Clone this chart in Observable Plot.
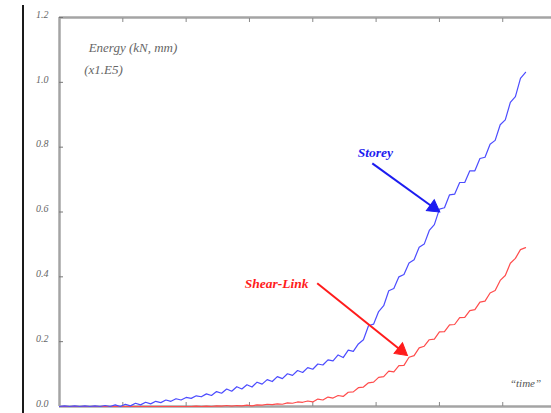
<!DOCTYPE html>
<html><head><meta charset="utf-8">
<script src="https://cdn.jsdelivr.net/npm/d3@7"></script>
<script src="https://cdn.jsdelivr.net/npm/@observablehq/plot@0.6"></script>
<style>
html,body{margin:0;padding:0;background:#fff;overflow:hidden}
#wrap{position:relative;width:551px;height:413px}
#edge{position:absolute;left:22px;top:5px;width:2px;height:408px;background:#1a1a1a;z-index:2}
</style></head><body><div id="wrap"><div id="edge"></div></div>
<script>
// "time" axis (arbitrary units)
const time = [0,0.08,0.16,0.24,0.32,0.40,0.48,0.56,0.64,0.72,0.80,0.88,0.96,1.04,1.12,1.20,1.28,1.36,1.44,1.52,1.60,1.68,1.76,1.84,1.92,2.00,2.08,2.16,2.24,2.32,2.40,2.48,2.56,2.64,2.72,2.80,2.88,2.96,3.04,3.12,3.20,3.28,3.36,3.44,3.52,3.60,3.68,3.76,3.84,3.92,4.00,4.08,4.16,4.24,4.32,4.40,4.48,4.56,4.64,4.72,4.80,4.88,4.96,5.04,5.12,5.20,5.28,5.36,5.44,5.52,5.60,5.68,5.76,5.84,5.92,6.00,6.08,6.16,6.24,6.32,6.40,6.48,6.56,6.64,6.72,6.80,6.88,6.96,7.04,7.12,7.20,7.28,7.36];
// Energy (kN, mm) x1.E5
const storey = [0,0.002,0,0.002,0,0.002,0,0.002,0,0.003,
0,0.005,0,0.007,0.002,0.010,0.005,0.013,0.008,0.016,
0.012,0.020,0.016,0.024,0.020,0.028,0.025,0.033,0.030,0.039,
0.034,0.046,0.041,0.054,0.047,0.061,0.054,0.067,0.060,0.075,
0.069,0.083,0.077,0.092,0.086,0.101,0.096,0.111,0.105,0.120,
0.115,0.131,0.128,0.144,0.141,0.159,0.151,0.174,0.170,0.193,
0.206,0.249,0.254,0.293,0.311,0.357,0.364,0.400,0.407,0.443,
0.453,0.491,0.501,0.543,0.561,0.609,0.613,0.653,0.655,0.691,
0.691,0.727,0.727,0.765,0.769,0.809,0.821,0.869,0.884,0.938,
0.956,1.012,1.031];
const shearLink = [0,0,0,0,0,0,0,0,0,0,0,0,0,0,0,0,0,0,0,0,0,0,0,0,0,0,
0,0.001,0,0.001,0,0.002,
0.001,0.003,0.001,0.003,0.002,0.004,0.002,0.005,0.004,0.007,0.006,0.008,0.007,0.011,0.010,0.014,0.013,0.017,
0.014,0.023,0.020,0.029,0.026,0.034,0.031,0.044,0.045,0.058,0.060,0.073,0.075,0.090,0.092,
0.109,0.107,0.126,0.127,0.152,0.157,0.181,0.186,0.206,0.208,0.230,0.231,0.252,0.253,0.274,0.275,0.296,0.299,0.322,0.325,0.350,0.358,0.389,0.404,0.442,0.457,0.484,0.490];
const yTicks = [0,0.2,0.4,0.6,0.8,1.0,1.2];
const xTicks = [1,2,3,4,5,6,7];
const unitLabels = [{text:"Energy (kN, mm)", x:0.46, y:1.107},{text:"(x1.E5)", x:0.39, y:1.04}];
const seriesLabels = [{text:"Storey", x:4.99, y:0.783, color:"#1c1cf0"},{text:"Shear-Link", x:3.43, y:0.38, color:"#ff1c1c"}];
const arrows = [{x1:4.94,y1:0.75,x2:5.97,y2:0.605,color:"#1c1cf0"},{x1:4.07,y1:0.38,x2:5.46,y2:0.163,color:"#ff1c1c"}];
const timeLabel = [{text:"\u201ctime\u201d", x:7.36, y:0.071}];

const W = 551, H = 413, mL = 59, mR = 0, mT = 17, mB = 7;
const xDomain = [0,7.77], yDomain = [0,1.2];
const sx = Plot.scale({x:{domain:xDomain, range:[mL, W-mR]}});
const sy = Plot.scale({y:{domain:yDomain, range:[H-mB, mT]}});
// arrowheads: filled triangles oriented along each arrow
const heads = arrows.map(a => {
  const px1 = sx.apply(a.x1), py1 = sy.apply(a.y1), px2 = sx.apply(a.x2), py2 = sy.apply(a.y2);
  const dx = px2-px1, dy = py2-py1, L = Math.hypot(dx,dy), ux = dx/L, uy = dy/L;
  const back = 5;
  return {x: sx.invert(px2-ux*back), y: sy.invert(py2-uy*back), rot: Math.atan2(dx,-dy)*180/Math.PI, color:a.color,
          sx2: sx.invert(px2-ux*8), sy2: sy.invert(py2-uy*8), x1:a.x1, y1:a.y1};
});

const rows = time.map((t,i)=>({t, storey: storey[i], shear: shearLink[i]}));
const font = "'Liberation Serif', 'DejaVu Serif', serif";
const chart = Plot.plot({
  width:W, height:H, marginLeft:mL, marginRight:mR, marginTop:mT, marginBottom:mB,
  style:{fontFamily:font, background:"white", overflow:"visible"},
  x:{domain:xDomain, axis:null},
  y:{domain:yDomain, axis:null},
  marks:[
    Plot.ruleY([0,1.2],{stroke:"#a4a4a4",strokeWidth:2.5}),
    Plot.ruleX([0],{stroke:"#a4a4a4",strokeWidth:2.5}),
    Plot.axisY(yTicks,{anchor:"left",tickSize:-4,tickFormat:()=>"",stroke:"#777"}),
    Plot.axisY(yTicks,{anchor:"left",tickSize:0,tickPadding:11,tickFormat:d=>d.toFixed(1),fontStyle:"italic",fontSize:10,fill:"#666",dy:-3}),
    Plot.axisX(xTicks,{anchor:"top",tickSize:-4,tickFormat:()=>"",stroke:"#888"}),
    Plot.axisX(xTicks,{anchor:"bottom",tickSize:-4,tickFormat:()=>"",stroke:"#888"}),
    Plot.line(rows,{x:"t",y:"shear",stroke:"#ff4c4c",strokeWidth:1.2}),
    Plot.line(rows,{x:"t",y:"storey",stroke:"#4c4cff",strokeWidth:1.2}),
    Plot.link(heads,{x1:"x1",y1:"y1",x2:"sx2",y2:"sy2",stroke:"color",strokeWidth:2}),
    Plot.dot(heads,{x:"x",y:"y",symbol:"triangle",r:5,fill:"color",stroke:"color",strokeWidth:1,rotate:"rot"}),
    Plot.text(unitLabels,{x:"x",y:"y",text:"text",textAnchor:"start",fontStyle:"italic",fontSize:13,fill:"#666"}),
    Plot.text(seriesLabels,{x:"x",y:"y",text:"text",fill:"color",fontStyle:"italic",fontWeight:"bold",fontSize:13.5}),
    Plot.text(timeLabel,{x:"x",y:"y",text:"text",fontStyle:"italic",fontSize:11,fill:"#555"})
  ]
});
chart.style.position="absolute"; chart.style.left="0"; chart.style.top="0";
document.getElementById("wrap").appendChild(chart);
</script>
</body></html>
